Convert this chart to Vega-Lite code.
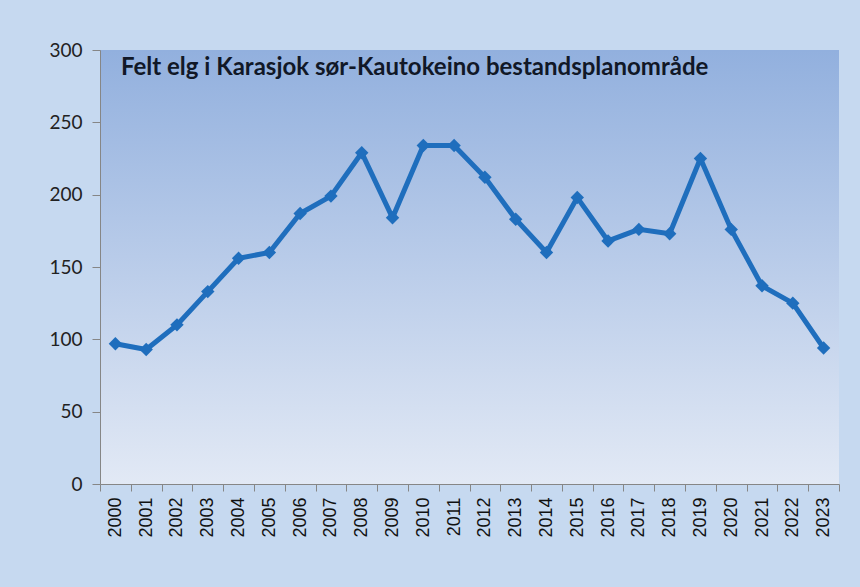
{
  "$schema": "https://vega.github.io/schema/vega-lite/v6.json",
  "width": 739,
  "height": 434,
  "autosize": {"type": "none"},
  "padding": {"left": 100, "top": 50, "right": 21, "bottom": 103},
  "background": "#c6d9f0",
  "view": {
    "stroke": null,
    "fill": {"gradient": "linear", "x1": 0, "y1": 0, "x2": 0, "y2": 1,
      "stops": [{"offset": 0, "color": "#92b0de"}, {"offset": 1, "color": "#e2e9f5"}]}
  },
  "title": {
    "text": "Felt elg i Karasjok sør-Kautokeino bestandsplanområde",
    "anchor": "start",
    "frame": "group",
    "dx": 21,
    "offset": -39,
    "font": "Lato",
    "fontSize": 24,
    "fontWeight": "bold",
    "color": "#111827"
  },
  "data": {
    "values": [
      {"year": "2000", "felt": 97},
      {"year": "2001", "felt": 93},
      {"year": "2002", "felt": 110},
      {"year": "2003", "felt": 133},
      {"year": "2004", "felt": 156},
      {"year": "2005", "felt": 160},
      {"year": "2006", "felt": 187},
      {"year": "2007", "felt": 199},
      {"year": "2008", "felt": 229},
      {"year": "2009", "felt": 184},
      {"year": "2010", "felt": 234},
      {"year": "2011", "felt": 234},
      {"year": "2012", "felt": 212},
      {"year": "2013", "felt": 183},
      {"year": "2014", "felt": 160},
      {"year": "2015", "felt": 198},
      {"year": "2016", "felt": 168},
      {"year": "2017", "felt": 176},
      {"year": "2018", "felt": 173},
      {"year": "2019", "felt": 225},
      {"year": "2020", "felt": 176},
      {"year": "2021", "felt": 137},
      {"year": "2022", "felt": 125},
      {"year": "2023", "felt": 94}
    ]
  },
  "mark": {
    "type": "line",
    "color": "#1f6ebd",
    "strokeWidth": 5,
    "point": {"shape": "diamond", "size": 180, "filled": true, "color": "#1f6ebd"}
  },
  "encoding": {
    "x": {
      "field": "year",
      "type": "ordinal",
      "scale": {"type": "band", "paddingInner": 0, "paddingOuter": 0},
      "axis": {
        "title": null,
        "tickBand": "extent",
        "labelAngle": -90,
        "labelAlign": "right",
        "labelBaseline": "middle",
        "labelFont": "Liberation Sans",
        "labelFontSize": 18,
        "labelColor": "#111111",
        "labelPadding": 6,
        "tickSize": 7,
        "tickColor": "#868686",
        "domainColor": "#868686",
        "grid": false
      }
    },
    "y": {
      "field": "felt",
      "type": "quantitative",
      "scale": {"domain": [0, 300], "nice": false, "zero": true},
      "axis": {
        "title": null,
        "values": [0, 50, 100, 150, 200, 250, 300],
        "grid": false,
        "labelFont": "Lato",
        "labelFontSize": 19,
        "labelColor": "#222222",
        "labelPadding": 10,
        "tickSize": 8,
        "tickColor": "#868686",
        "domainColor": "#868686"
      }
    }
  }
}
